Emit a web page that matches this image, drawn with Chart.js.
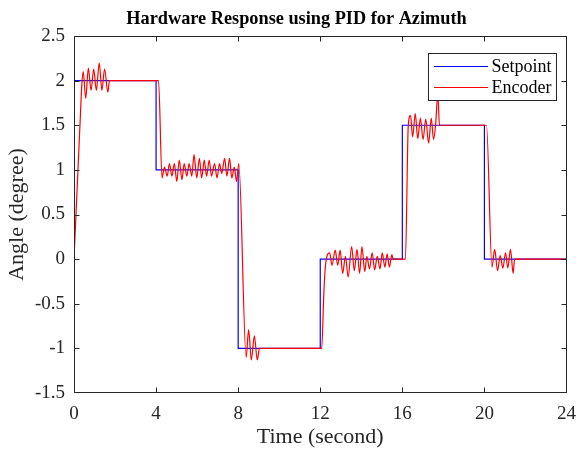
<!DOCTYPE html>
<html><head><meta charset="utf-8">
<script src="https://cdn.jsdelivr.net/npm/chart.js@4/dist/chart.umd.min.js"></script>
<style>html,body{margin:0;padding:0;background:#fff}</style>
</head><body>
<canvas id="c" width="586" height="450" style="display:block;width:586px;height:450px"></canvas>
<script>
// ---- data ----
const chartTitle = 'Hardware Response using PID for Azimuth';
const xTitle = 'Time (second)';
const yTitle = 'Angle (degree)';
const seriesNames = ['Setpoint', 'Encoder'];

const setpointTime  = [0, 0, 4, 4, 8, 8, 12, 12, 16, 16, 20, 20, 24];
const setpointAngle = [0, 2, 2, 1, 1, -1, -1, 0, 0, 1.5, 1.5, 0, 0];

const encoderTime = [0, 0.30, 0.38, 0.45, 0.57, 0.70, 0.83, 0.96, 1.09, 1.23, 1.36, 1.49, 1.65, 1.73,
  4.12, 4.29, 4.41, 4.54, 4.65, 4.77, 4.89, 5.01, 5.13, 5.26, 5.37, 5.50, 5.61, 5.74, 5.85, 5.98,
  6.11, 6.22, 6.35, 6.46, 6.59, 6.70, 6.85, 6.97, 7.09, 7.20, 7.34, 7.45, 7.58, 7.69, 7.81, 7.92, 8.03,
  8.39, 8.51, 8.64, 8.79, 8.93, 9.04,
  12.07, 12.18, 12.26, 12.46, 12.57, 12.73, 12.85, 12.97, 13.09, 13.23, 13.36, 13.53, 13.66, 13.79,
  13.92, 14.03, 14.17, 14.27, 14.40, 14.53, 14.65, 14.78, 14.91, 15.02, 15.15, 15.26, 15.37, 15.49, 15.55,
  16.15, 16.29, 16.40, 16.50, 16.63, 16.75, 16.88, 17.01, 17.14, 17.28, 17.41, 17.52, 17.62, 17.73, 17.81,
  20.10, 20.37, 20.50, 20.64, 20.77, 20.90, 21.03, 21.14, 21.27, 21.40, 21.47, 24];
const encoderAngle = [0, 1.55, 1.95, 2.10, 1.80, 2.14, 1.89, 2.13, 1.89, 2.20, 1.89, 2.13, 1.87, 2.00,
  2.00, 0.91, 1.03, 0.93, 1.07, 0.93, 1.07, 0.87, 1.11, 0.89, 1.07, 0.93, 1.07, 0.93, 1.17, 0.91,
  1.13, 0.91, 1.11, 0.93, 1.11, 0.93, 1.07, 0.91, 1.07, 0.96, 1.13, 0.93, 1.13, 0.91, 1.03, 0.87, 1.07,
  -1.10, -0.79, -1.13, -0.86, -1.13, -1.00,
  -1.00, -0.35, -0.06, 0.07, -0.07, 0.10, -0.07, 0.10, -0.16, 0.03, -0.20, 0.14, -0.13, 0.11,
  -0.16, 0.14, -0.14, 0.03, -0.11, 0.07, -0.12, 0.03, -0.11, 0.07, -0.09, 0.06, -0.09, 0.05, 0.00,
  0.00, 1.50, 1.61, 1.37, 1.63, 1.35, 1.58, 1.34, 1.57, 1.30, 1.58, 1.34, 1.50, 1.85, 1.50,
  1.50, -0.09, 0.11, -0.13, 0.04, -0.10, 0.07, -0.10, 0.11, -0.16, 0.00, 0];

const xRange = [0, 24], xStep = 4;
const yRange = [-1.5, 2.5], yStep = 0.5;
const seriesColors = ['#0000ff', '#ff0000'];

// ---- chart ----
const FONT = "'Liberation Serif', 'Times New Roman', serif";
const AX = '#262626';

const toXY = (xs, ys) => xs.map((x, i) => ({x, y: ys[i]}));

const framePlugin = {
  id: 'matlabFrame',
  afterDatasetsDraw(chart) {
    const {ctx, chartArea: a, scales: {x, y}} = chart;
    const L = Math.round(a.left) + 0.5, R = Math.round(a.right) - 0.5;
    const T = Math.round(a.top) + 0.5, B = Math.round(a.bottom) - 0.5;
    const tl = 5;
    ctx.save();
    ctx.strokeStyle = AX;
    ctx.lineWidth = 1;
    ctx.beginPath();
    ctx.rect(L, T, R - L, B - T);
    x.ticks.forEach(t => {
      let px = Math.round(x.getPixelForValue(t.value)) + 0.5;
      px = Math.min(Math.max(px, L), R);
      ctx.moveTo(px, B); ctx.lineTo(px, B - tl);
      ctx.moveTo(px, T); ctx.lineTo(px, T + tl);
    });
    y.ticks.forEach(t => {
      let py = Math.round(y.getPixelForValue(t.value)) + 0.5;
      py = Math.min(Math.max(py, T), B);
      ctx.moveTo(L, py); ctx.lineTo(L + tl, py);
      ctx.moveTo(R, py); ctx.lineTo(R - tl, py);
    });
    ctx.stroke();

    // legend box (inside axes, top right)
    const lx = 428.5, ly = 53.5, lw = 128, lh = 47;
    ctx.fillStyle = '#ffffff';
    ctx.fillRect(lx, ly, lw, lh);
    ctx.strokeStyle = AX;
    ctx.strokeRect(lx, ly, lw, lh);
    const rows = [66.5, 87.5];
    ctx.font = "18px " + FONT;
    ctx.textBaseline = 'middle';
    ctx.textAlign = 'left';
    seriesNames.forEach((n, i) => {
      ctx.strokeStyle = seriesColors[i];
      ctx.lineWidth = 1.2;
      ctx.beginPath();
      ctx.moveTo(434, rows[i]); ctx.lineTo(488, rows[i]);
      ctx.stroke();
      ctx.fillStyle = '#000';
      ctx.fillText(n, 491.5, rows[i] + 0.5);
    });
    ctx.restore();
  }
};

new Chart(document.getElementById('c'), {
  type: 'line',
  data: {
    datasets: [
      { label: seriesNames[1], data: toXY(encoderTime, encoderAngle), borderColor: seriesColors[1],
        borderWidth: 1.2, pointRadius: 0, cubicInterpolationMode: 'monotone', order: 0 },
      { label: seriesNames[0], data: toXY(setpointTime, setpointAngle), borderColor: seriesColors[0],
        borderWidth: 1.2, pointRadius: 0, tension: 0, order: 1 }
    ]
  },
  options: {
    responsive: false,
    animation: false,
    events: [],
    devicePixelRatio: 1,
    layout: { padding: { left: 19, right: 12, top: 0, bottom: 0 } },
    plugins: {
      legend: { display: false },
      tooltip: { enabled: false },
      title: {
        display: true, text: chartTitle, color: '#000',
        font: { family: FONT, size: 18.3, weight: 'bold', lineHeight: 1.2 },
        padding: { top: 8, bottom: 6.04 }
      }
    },
    scales: {
      x: {
        type: 'linear', min: xRange[0], max: xRange[1],
        grid: { display: false, drawTicks: false }, border: { display: false },
        ticks: { stepSize: xStep, color: AX, padding: 10, maxRotation: 0,
                 font: { family: FONT, size: 19 } },
        title: { display: true, text: xTitle, color: AX,
                 font: { family: FONT, size: 22 }, padding: { top: 0, bottom: 0 } },
        afterFit(s) { s.height = 57; }
      },
      y: {
        type: 'linear', min: yRange[0], max: yRange[1],
        grid: { display: false, drawTicks: false }, border: { display: false },
        ticks: { stepSize: yStep, color: AX, padding: 9,
                 font: { family: FONT, size: 19 },
                 callback: v => String(Math.round(v * 10) / 10) },
        title: { display: true, text: yTitle, color: AX,
                 font: { family: FONT, size: 22 }, padding: { top: -14.5, bottom: 0 } },
        afterFit(s) { s.width = 55; }
      }
    }
  },
  plugins: [framePlugin]
});
</script>
</body></html>
